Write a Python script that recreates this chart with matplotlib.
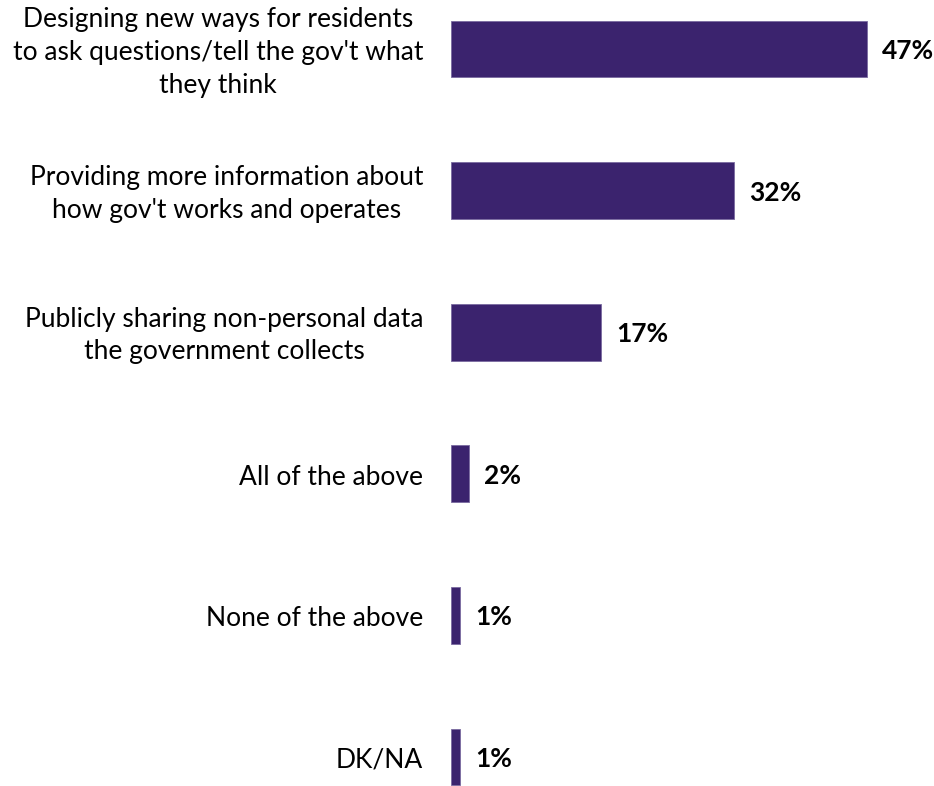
import matplotlib.pyplot as plt

plt.rcParams['font.family'] = ['Lato', 'DejaVu Sans']

categories = [
    "Designing new ways for residents\nto ask questions/tell the gov't what\nthey think",
    "Providing more information about\nhow gov't works and operates",
    "Publicly sharing non-personal data\nthe government collects",
    "All of the above",
    "None of the above",
    "DK/NA",
]
values = [47, 32, 17, 2, 1, 1]
value_labels = ["47%", "32%", "17%", "2%", "1%", "1%"]

bar_color = '#3B236E'

fig = plt.figure(figsize=(9.34, 7.86), dpi=100)
ax = fig.add_axes([451 / 934, 0, 483 / 934, 1])

ypos = list(range(len(categories)))
ax.barh(ypos, values, height=0.40, color=bar_color, edgecolor='#7a6aa0', linewidth=0.6)

ax.set_xlim(0, 54.6)
ax.set_ylim(5.205, -0.346)
ax.axis('off')

for y, v, lab, cat in zip(ypos, values, value_labels, categories):
    ax.annotate(lab, (v, y), xytext=(11, -1.5), textcoords='offset points',
                ha='left', va='center', fontsize=19, fontweight='bold', color='black')
    ax.annotate(cat, (0, y), xytext=(-20, -2.5), textcoords='offset points',
                ha='right', va='center', multialignment='center',
                fontsize=19, color='black', linespacing=1.38, annotation_clip=False)

plt.savefig('out.png', dpi=100)
